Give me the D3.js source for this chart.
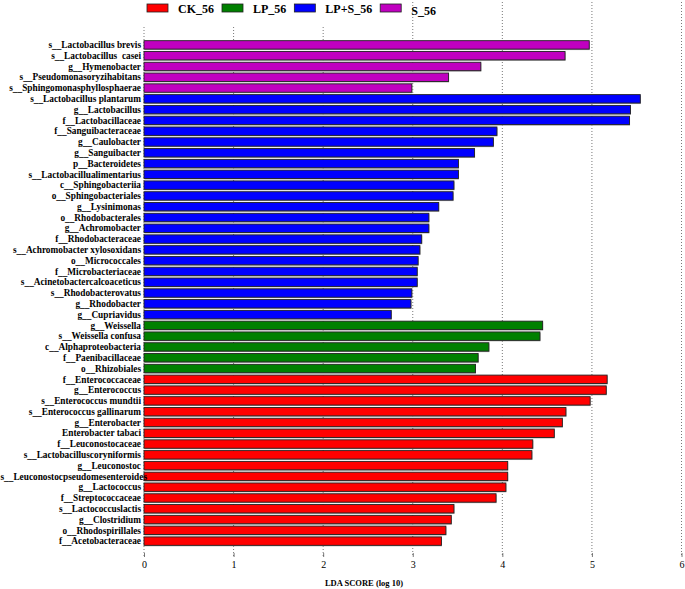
<!DOCTYPE html>
<html>
<head>
<meta charset="utf-8">
<script src="https://cdn.jsdelivr.net/npm/d3@7"></script>
<style>
  body { margin: 0; background: #fff; }
  svg { font-family: "Liberation Serif", "Times New Roman", serif; }
</style>
</head>
<body>
<div id="chart"></div>
<script>
// groups, in legend order
const groups = ["CK_56", "LP_56", "LP+S_56", "S_56"]
const groupColors = ["#ff0000", "#008000", "#0000ff", "#c000c0"]

// features top to bottom
const labels = [
  "s__Lactobacillus brevis", "s__Lactobacillus  casei", "g__Hymenobacter",
  "s__Pseudomonasoryzihabitans", "s__Sphingomonasphyllosphaerae",
  "s__Lactobacillus plantarum", "g__Lactobacillus", "f__Lactobacillaceae",
  "f__Sanguibacteraceae", "g__Caulobacter", "g__Sanguibacter", "p__Bacteroidetes",
  "s__Lactobacillualimentarius", "c__Sphingobacteriia", "o__Sphingobacteriales",
  "g__Lysinimonas", "o__Rhodobacterales", "g__Achromobacter", "f__Rhodobacteraceae",
  "s__Achromobacter xylosoxidans", "o__Micrococcales", "f__Microbacteriaceae",
  "s__Acinetobactercalcoaceticus", "s__Rhodobacterovatus", "g__Rhodobacter",
  "g__Cupriavidus",
  "g__Weissella", "s__Weissella confusa", "c__Alphaproteobacteria",
  "f__Paenibacillaceae", "o__Rhizobiales",
  "f__Enterococcaceae", "g__Enterococcus", "s__Enterococcus mundtii",
  "s__Enterococcus gallinarum", "g__Enterobacter", "Enterobacter tabaci",
  "f__Leuconostocaceae", "s__Lactobacilluscoryniformis", "g__Leuconostoc",
  "s__Leuconostocpseudomesenteroides", "g__Lactococcus", "f__Streptococcaceae",
  "s__Lactococcuslactis", "g__Clostridium", "o__Rhodospirillales", "f__Acetobacteraceae"
]

const scores = [
  4.97, 4.70, 3.76, 3.40, 2.99,
  5.54, 5.43, 5.42, 3.94, 3.90, 3.69, 3.51, 3.51, 3.46, 3.45,
  3.29, 3.18, 3.18, 3.10, 3.08, 3.06, 3.05, 3.05, 2.99, 2.98, 2.76,
  4.45, 4.42, 3.85, 3.73, 3.70,
  5.17, 5.16, 4.98, 4.71, 4.67, 4.58, 4.34, 4.33, 4.06, 4.06, 4.04, 3.93,
  3.46, 3.43, 3.37, 3.32
]

const classes = [].concat(
  Array(5).fill("S_56"),
  Array(21).fill("LP+S_56"),
  Array(5).fill("LP_56"),
  Array(16).fill("CK_56")
)

const xTicks = [0, 1, 2, 3, 4, 5, 6]

const width = 685, height = 589

const svg = d3.select("#chart").append("svg")
  .attr("width", width)
  .attr("height", height)

const color = d3.scaleOrdinal().domain(groups).range(groupColors)

const x = d3.scaleLinear().domain([0, 6]).range([144, 681.5])
const y = d3.scaleBand().domain(labels).range([39.6, 546.4]).paddingInner(0.22).paddingOuter(0.1)

// dotted grid lines
svg.append("g").selectAll("line")
  .data(xTicks)
  .enter().append("line")
  .attr("x1", d => x(d)).attr("x2", d => x(d))
  .attr("y1", d => d >= 3 ? 2 : 27)
  .attr("y2", 556)
  .attr("stroke", "#555")
  .attr("stroke-width", 0.8)
  .attr("stroke-dasharray", "1,2")

const rows = labels.map((l, i) => ({label: l, score: scores[i], cls: classes[i]}))

// bar shadow
svg.append("g").selectAll("rect")
  .data(rows)
  .enter().append("rect")
  .attr("x", x(0) + 0.5)
  .attr("y", d => y(d.label) + 1)
  .attr("width", d => x(d.score) - x(0))
  .attr("height", y.bandwidth())
  .attr("fill", "#aaa")

svg.append("g").selectAll("rect")
  .data(rows)
  .enter().append("rect")
  .attr("x", x(0))
  .attr("y", d => y(d.label))
  .attr("width", d => x(d.score) - x(0))
  .attr("height", y.bandwidth())
  .attr("fill", d => color(d.cls))
  .attr("stroke", "#222")
  .attr("stroke-width", 0.9)

const rowText = svg.append("g").selectAll("text")
  .data(rows)
  .enter().append("text")
  .attr("x", 141)
  .attr("y", d => y(d.label) + y.bandwidth() / 2 + 3.2)
  .attr("text-anchor", "end")
  .attr("fill", "#000")
  .style("font-size", "9.3px")
  .style("font-weight", "bold")
  .style("white-space", "pre")
  .text(d => d.label)

// labels too long for the margin start at the left edge and run onto the bar
rowText.each(function () {
  if (this.getComputedTextLength() > 140) {
    d3.select(this).attr("x", 0.5).attr("text-anchor", "start")
  }
})

// axis
const axis = d3.axisBottom(x)
  .tickValues(xTicks)
  .tickSize(4)
  .tickFormat(d3.format("d"))

const ax = svg.append("g")
  .attr("transform", "translate(0,553)")
  .call(axis)
ax.select(".domain").remove()
ax.selectAll(".tick line").attr("stroke", "#555").attr("stroke-width", 0.8)
ax.selectAll(".tick text")
  .attr("y", 8)
  .style("font-family", "Liberation Serif, serif")
  .style("font-size", "10px")
  .attr("fill", "#000")

svg.append("text")
  .attr("x", 364)
  .attr("y", 586)
  .attr("text-anchor", "middle")
  .style("font-size", "8.5px")
  .style("font-weight", "bold")
  .text("LDA SCORE (log 10)")

// legend
const legend = svg.append("g")
let lx = 147
groups.forEach(function (g, i) {
  legend.append("rect")
    .attr("x", lx).attr("y", 4)
    .attr("width", 21).attr("height", 8)
    .attr("fill", groupColors[i])
    .attr("stroke", "#222")
    .attr("stroke-width", 0.8)
  const t = legend.append("text")
    .attr("x", lx + 31)
    .attr("y", g === "S_56" ? 15 : 13)
    .style("font-size", "12px")
    .style("font-weight", "bold")
    .text(g)
  lx = lx + 31 + t.node().getComputedTextLength() + 8
})
</script>
</body>
</html>
